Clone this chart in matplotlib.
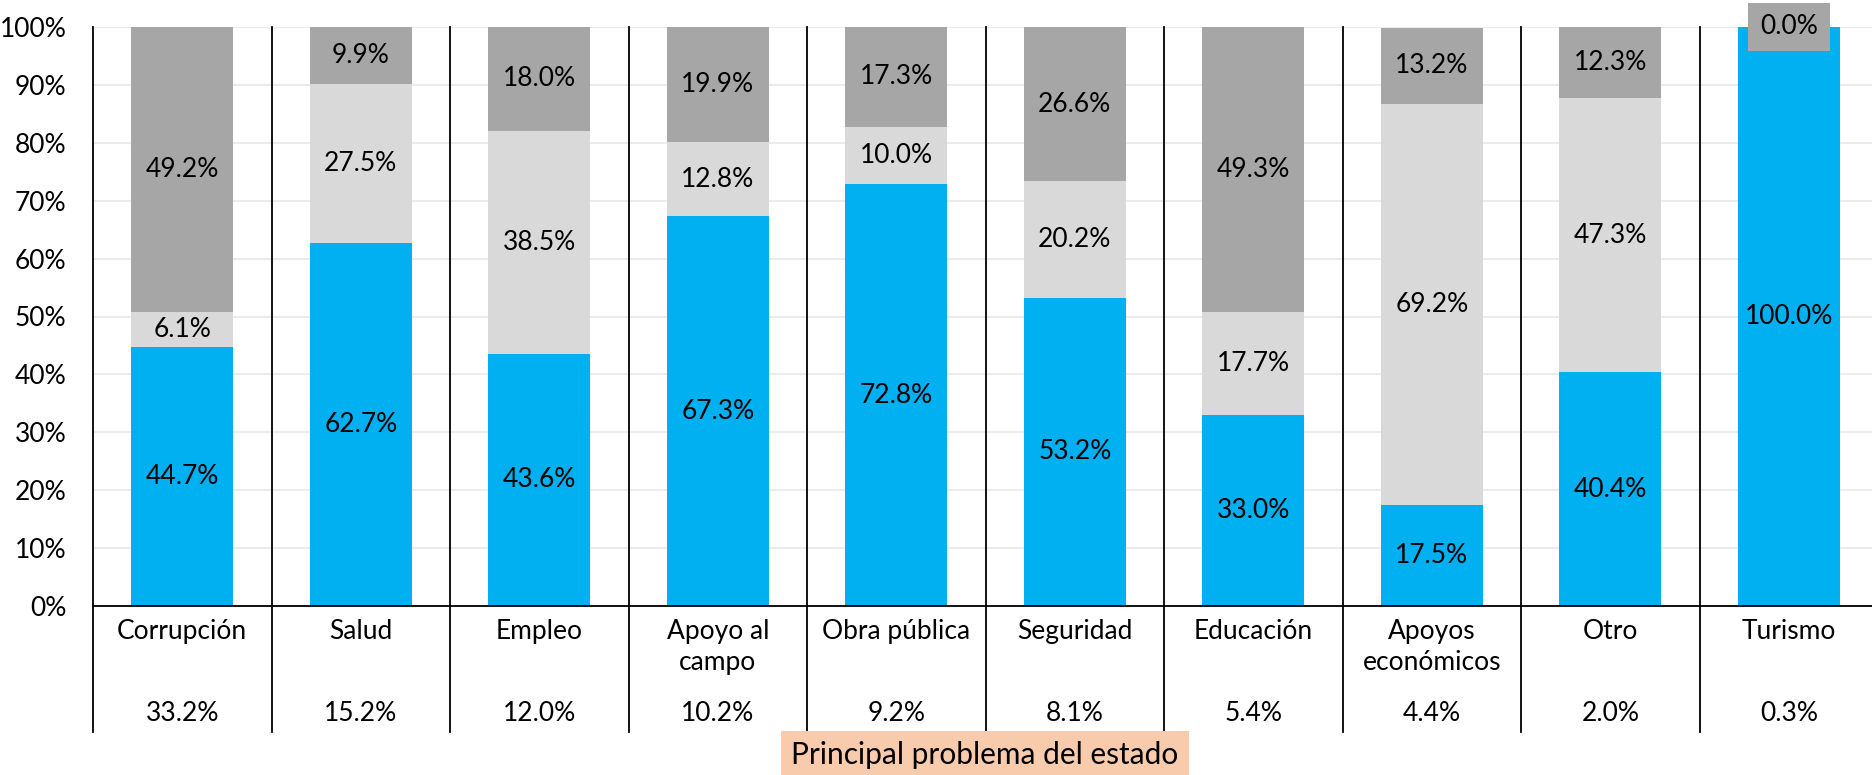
import numpy as np
import matplotlib.pyplot as plt
from matplotlib import transforms

plt.rcParams['font.family'] = ['Lato', 'DejaVu Sans']

categories = ['Corrupción', 'Salud', 'Empleo', 'Apoyo al\ncampo', 'Obra pública',
              'Seguridad', 'Educación', 'Apoyos\neconómicos', 'Otro', 'Turismo']
share = [33.2, 15.2, 12.0, 10.2, 9.2, 8.1, 5.4, 4.4, 2.0, 0.3]
blue_vals = [44.7, 62.7, 43.6, 67.3, 72.8, 53.2, 33.0, 17.5, 40.4, 100.0]
light_vals = [6.1, 27.5, 38.5, 12.8, 10.0, 20.2, 17.7, 69.2, 47.3, 0.0]
dark_vals = [49.2, 9.9, 18.0, 19.9, 17.3, 26.6, 49.3, 13.2, 12.3, 0.0]

colors = ['#00B0F0', '#D9D9D9', '#A6A6A6']
fs = 19

fig = plt.figure(figsize=(18.72, 7.75), dpi=100)
ax = fig.add_axes([93 / 1872, 169 / 775, 1779 / 1872, 579 / 775])

x = np.arange(len(categories))
bottom = np.zeros(len(categories))
for vals, col in zip([blue_vals, light_vals, dark_vals], colors):
    vals = np.array(vals)
    ax.bar(x, vals, 0.57, bottom=bottom, color=col, zorder=2)
    for xi, b, v in zip(x, bottom, vals):
        if v > 0:
            ax.text(xi, b + v / 2, f'{v:.1f}%', ha='center', va='center',
                    fontsize=fs, color='black', zorder=3)
        elif col == colors[2] and b >= 100:
            # zero-height top segment: label sits on the bar top
            ax.text(xi, 100, f'{v:.1f}%', ha='center', va='center', fontsize=fs,
                    zorder=4, bbox=dict(boxstyle='square,pad=0.45', fc=col, ec='none'))
    bottom = bottom + vals

ax.set_ylim(0, 100)
ax.set_xlim(-0.5, 9.466)
ax.set_yticks(np.arange(0, 101, 10))
ax.set_yticklabels([f'{v}%' for v in range(0, 101, 10)], fontsize=fs)
ax.set_xticks([])
ax.tick_params(axis='y', length=0, pad=19)
ax.grid(axis='y', color='#EBEBEB', linewidth=1.5, zorder=0)
for s in ['top', 'right', 'left']:
    ax.spines[s].set_visible(False)
ax.spines['bottom'].set_color('black')
ax.spines['bottom'].set_linewidth(1.3)
ax.spines['bottom'].set_zorder(5)

trans = transforms.blended_transform_factory(ax.transData, ax.transAxes)
for b in np.arange(-0.5, 10.5, 1.0):
    ax.plot([b, b], [1, -0.2176], color='black', linewidth=1.3, transform=trans,
            clip_on=False, zorder=5)

for xi, cat, s in zip(x, categories, share):
    ax.text(xi, -0.022, cat, transform=trans, ha='center', va='top', fontsize=fs,
            linespacing=1.3)
    ax.text(xi, -0.1865, f'{s:.1f}%', transform=trans, ha='center', va='center', fontsize=fs)

fig.text(985 / 1872, 20 / 775, 'Principal problema del estado', ha='center', va='center',
         fontsize=21.5, bbox=dict(boxstyle='square,pad=0.35', fc='#F8CBAD', ec='none'))

fig.savefig('out.png', dpi=100)
